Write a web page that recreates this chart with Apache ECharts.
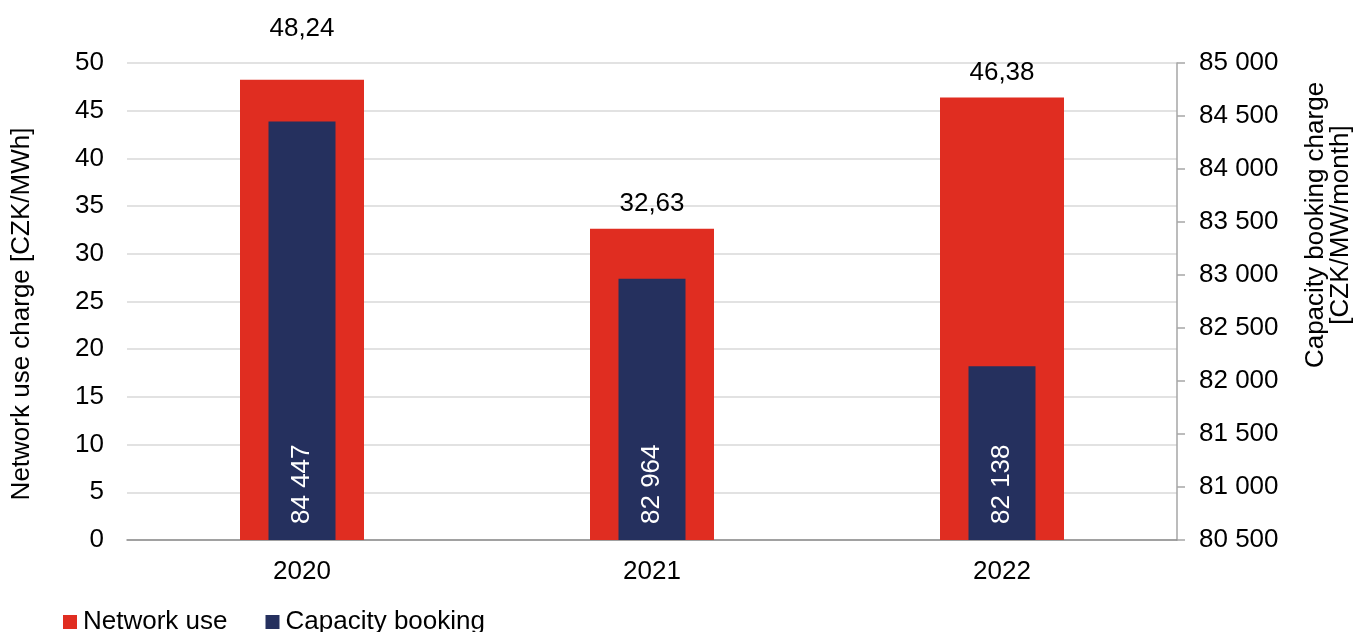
<!DOCTYPE html>
<html>
<head>
<meta charset="utf-8">
<script src="https://cdn.jsdelivr.net/npm/echarts@6/dist/echarts.min.js"></script>
<style>
  html, body { margin: 0; padding: 0; background: #fff; }
  #chart { width: 1369px; height: 632px; }
</style>
</head>
<body>
<div id="chart"></div>
<script>
// Years on the category axis
const years = ['2020', '2021', '2022'];
// Network use charge [CZK/MWh]
const networkUse = [48.24, 32.63, 46.38];
// Capacity booking charge [CZK/MW/month]
const capacityBooking = [84447, 82964, 82138];

const FONT = 'Liberation Sans, Arial, sans-serif';
const RED = '#E02D21';
const NAVY = '#25305E';

const fmtComma = v => String(v.toFixed(2)).replace('.', ',');
const fmtThousands = v => String(Math.round(v)).replace(/\B(?=(\d{3})+(?!\d))/g, ' ');

const chart = echarts.init(document.getElementById('chart'), null, { renderer: 'canvas' });

// the first label sits higher, clear of the top gridline
const networkData = networkUse.map((v, i) => i === 0
  ? { value: v, label: { offset: [0, -26] } }
  : v);

chart.setOption({
  animation: false,
  backgroundColor: '#fff',
  textStyle: { fontFamily: FONT },
  grid: { left: 127, right: 192, top: 63, bottom: 92, containLabel: false },
  legend: {
    left: 63, top: 609, padding: 0,
    itemWidth: 14, itemHeight: 14, itemGap: 38,
    icon: 'rect',
    textStyle: { fontSize: 26, color: '#000', fontFamily: FONT, padding: [0, 0, 0, 1] },
    data: ['Network use', 'Capacity booking']
  },
  xAxis: [
    {
      type: 'category', data: years,
      axisLine: { lineStyle: { color: '#8C8C8C', width: 1.5 } },
      axisTick: { show: false },
      axisLabel: { fontSize: 26, color: '#000', margin: 19, fontFamily: FONT }
    },
    {
      type: 'category', data: years, show: false
    }
  ],
  yAxis: [
    {
      type: 'value', min: 0, max: 50, interval: 5,
      axisLine: { show: false },
      axisTick: { show: false },
      splitLine: { lineStyle: { color: '#D9D9D9', width: 1.5 } },
      axisLabel: { fontSize: 26, color: '#000', margin: 23, fontFamily: FONT }
    },
    {
      type: 'value', min: 80500, max: 85000, interval: 500, startValue: 80500,
      position: 'right',
      axisLine: { show: true, lineStyle: { color: '#A6A6A6', width: 1.5 } },
      axisTick: { show: true, inside: false, length: 8, lineStyle: { color: '#A6A6A6', width: 1.5 } },
      splitLine: { show: false },
      axisLabel: { fontSize: 26, color: '#000', margin: 22, fontFamily: FONT, formatter: fmtThousands }
    }
  ],
  graphic: [
    {
      type: 'text', x: 22, y: 314, rotation: Math.PI / 2,
      style: {
        text: 'Network use charge [CZK/MWh]',
        fontSize: 26, fontFamily: FONT, fill: '#000',
        align: 'center', verticalAlign: 'middle'
      }
    },
    {
      type: 'text', x: 1328, y: 225, rotation: Math.PI / 2,
      style: {
        text: 'Capacity booking charge\n[CZK/MW/month]',
        fontSize: 26, lineHeight: 25, fontFamily: FONT, fill: '#000',
        align: 'center', verticalAlign: 'middle'
      }
    }
  ],
  series: [
    {
      name: 'Network use', type: 'bar',
      xAxisIndex: 0, yAxisIndex: 0,
      barWidth: 124,
      itemStyle: { color: RED },
      data: networkData,
      label: {
        show: true, position: 'top', distance: 12,
        fontSize: 26, color: '#000', fontFamily: FONT,
        formatter: p => fmtComma(p.value)
      },
      z: 2
    },
    {
      name: 'Capacity booking', type: 'bar',
      xAxisIndex: 1, yAxisIndex: 1,
      barWidth: 67,
      clip: true,
      itemStyle: { color: NAVY },
      data: capacityBooking,
      label: {
        show: true, position: 'insideBottom', distance: 16,
        rotate: 90, align: 'left', verticalAlign: 'middle',
        fontSize: 26, color: '#fff', fontFamily: FONT,
        formatter: p => fmtThousands(p.value)
      },
      z: 3
    }
  ]
});
</script>
</body>
</html>
